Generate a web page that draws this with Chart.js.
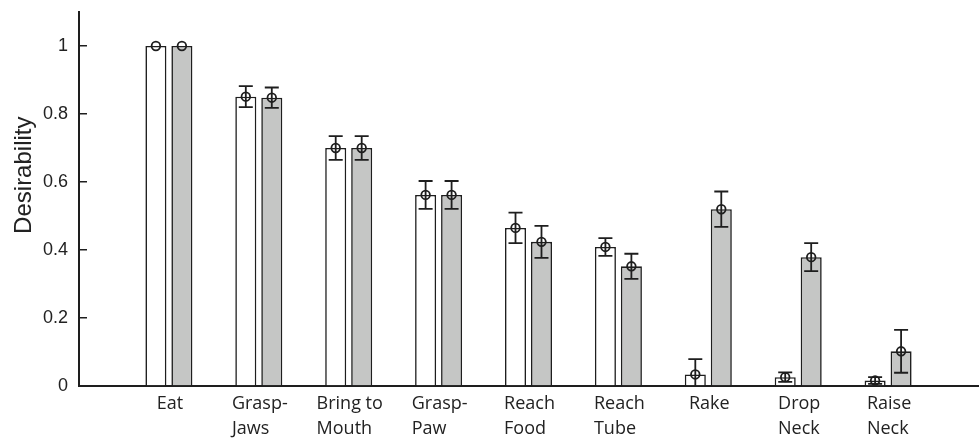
<!DOCTYPE html>
<html>
<head>
<meta charset="utf-8">
<script src="https://cdn.jsdelivr.net/npm/chart.js@4.4.1/dist/chart.umd.min.js"></script>
<style>
  html, body { margin: 0; padding: 0; background: #fff; }
  #wrap { width: 979px; height: 438px; }
</style>
</head>
<body>
<div id="wrap"><canvas id="chart"></canvas></div>
<script>
// behaviours on the x axis (multi-line labels)
var categories = [
    ['Eat'], ['Grasp-', 'Jaws'], ['Bring to', 'Mouth'], ['Grasp-', 'Paw'],
    ['Reach', 'Food'], ['Reach', 'Tube'], ['Rake'], ['Drop', 'Neck'], ['Raise', 'Neck']
];

// mean desirability and error per behaviour
var whiteMeans = [1.0, 0.851, 0.700, 0.562, 0.465, 0.409, 0.034, 0.026, 0.016];
var whiteErrs  = [0,   0.031, 0.035, 0.041, 0.045, 0.026, 0.045, 0.014, 0.010];
var grayMeans  = [1.0, 0.848, 0.700, 0.562, 0.424, 0.352, 0.520, 0.379, 0.102];
var grayErrs   = [0,   0.030, 0.035, 0.041, 0.047, 0.037, 0.052, 0.041, 0.063];

var yTicks = [0, 0.2, 0.4, 0.6, 0.8, 1];
var yTitle = 'Desirability';

var ink = '#1e1e1e';

function toPoints(vals) {
    return vals.map(function (v, i) { return { x: i, y: v }; });
}

// error bars + hollow circle on top of every bar
var errorBars = {
    id: 'errorBars',
    afterDatasetsDraw: function (chart) {
        var ctx = chart.ctx;
        var yScale = chart.scales.y;
        var area = chart.chartArea;
        ctx.save();
        ctx.beginPath();
        ctx.rect(area.left, area.top, area.right - area.left, area.bottom - area.top);
        ctx.clip();
        ctx.strokeStyle = ink;
        ctx.lineWidth = 1.8;
        chart.data.datasets.forEach(function (ds, d) {
            var meta = chart.getDatasetMeta(d);
            meta.data.forEach(function (bar, i) {
                var v = ds.data[i].y;
                var e = ds.errors[i];
                var x = bar.x;
                if (e > 0) {
                    var yTop = yScale.getPixelForValue(v + e);
                    var yBot = yScale.getPixelForValue(v - e);
                    ctx.beginPath();
                    ctx.moveTo(x, yTop);
                    ctx.lineTo(x, yBot);
                    ctx.moveTo(x - 7, yTop);
                    ctx.lineTo(x + 7, yTop);
                    ctx.moveTo(x - 7, yBot);
                    ctx.lineTo(x + 7, yBot);
                    ctx.stroke();
                }
                ctx.beginPath();
                ctx.arc(x, yScale.getPixelForValue(v), 4.3, 0, Math.PI * 2);
                ctx.stroke();
            });
        });
        ctx.restore();
    }
};

// category names: lines left-aligned, block centred under the bar pair;
// y title a bit above the middle of the axis
var axisText = {
    id: 'axisText',
    afterDraw: function (chart) {
        var ctx = chart.ctx;
        var xScale = chart.scales.x;
        var area = chart.chartArea;
        ctx.save();
        ctx.fillStyle = '#222';
        ctx.font = '18px "Open Sans"';
        ctx.textAlign = 'left';
        ctx.textBaseline = 'alphabetic';
        categories.forEach(function (lines, i) {
            var cx = xScale.getPixelForValue(i);
            var w = Math.max.apply(null, lines.map(function (t) { return ctx.measureText(t).width; }));
            lines.forEach(function (t, k) {
                ctx.fillText(t, cx - w / 2 + 1, area.bottom + 23 + k * 25);
            });
        });

        ctx.font = '24px "Liberation Sans"';
        ctx.textAlign = 'center';
        ctx.textBaseline = 'middle';
        ctx.translate(24, chart.scales.y.getPixelForValue(0.62));
        ctx.rotate(-Math.PI / 2);
        ctx.fillText(yTitle, 0, 0);
        ctx.restore();
    }
};

function noPad(s) {
    s.paddingTop = 0;
    s.paddingBottom = 0;
    s.paddingLeft = 0;
    s.paddingRight = 0;
}

new Chart(document.getElementById('chart'), {
    type: 'bar',
    data: {
        datasets: [{
            label: 'A',
            data: toPoints(whiteMeans),
            errors: whiteErrs,
            backgroundColor: '#ffffff',
            borderColor: ink,
            borderWidth: 1.6
        },
        {
            label: 'B',
            data: toPoints(grayMeans),
            errors: grayErrs,
            backgroundColor: '#c5c6c5',
            borderColor: ink,
            borderWidth: 1.6
        }]
    },
    plugins: [errorBars, axisText],
    options: {
        responsive: true,
        maintainAspectRatio: false,
        animation: false,
        categoryPercentage: 0.578,
        barPercentage: 0.81,
        layout: { padding: { top: 12, right: 1, left: 0, bottom: 0 } },
        plugins: {
            legend: { display: false },
            tooltip: { enabled: false }
        },
        scales: {
            x: {
                type: 'linear',
                min: -1,
                max: 9,
                offset: false,
                afterBuildTicks: function (s) {
                    s.ticks = categories.map(function (c, i) { return { value: i }; });
                },
                afterFit: function (s) { s.height = 52; noPad(s); },
                grid: { display: false, drawTicks: false },
                border: { display: true, color: ink, width: 2 },
                ticks: { display: false }
            },
            y: {
                min: 0,
                max: 1.1,
                afterBuildTicks: function (s) {
                    s.ticks = yTicks.map(function (v) { return { value: v }; });
                },
                afterFit: function (s) { s.width = 79; noPad(s); },
                grid: { drawOnChartArea: false, tickLength: -8, color: ink, lineWidth: 1.5 },
                border: { display: true, color: ink, width: 2 },
                ticks: {
                    padding: 19,
                    color: '#222',
                    font: { family: 'Liberation Sans', size: 18 },
                    callback: function (v) { return String(v); }
                }
            }
        }
    }
});
</script>
</body>
</html>
